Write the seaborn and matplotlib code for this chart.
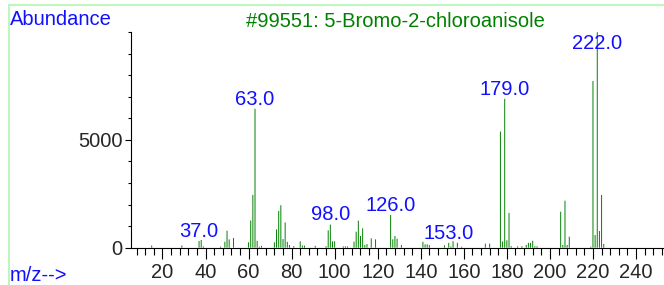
import matplotlib
matplotlib.use("Agg")
import matplotlib.pyplot as plt
from matplotlib.patches import Rectangle
from matplotlib.ticker import MultipleLocator, FixedLocator
import pandas as pd
import seaborn as sns

# --- data ---
mz = [15, 29, 37, 38, 39, 47, 49, 50, 51, 53,
      60, 61, 62, 63, 64, 65, 66, 72, 73, 74,
      75, 76, 77, 78, 79, 81, 84, 85, 86, 91,
      96, 97, 98, 99, 100, 104, 105, 106, 109, 110,
      111, 112, 113, 114, 115, 117, 119, 126, 127, 128,
      129, 131, 141, 142, 143, 144, 151, 153, 154, 155,
      157, 159, 170, 172, 177, 178, 179, 180, 181, 182,
      185, 187, 189, 190, 191, 192, 193, 194, 205, 206,
      207, 208, 209, 219, 220, 221, 222, 223, 224, 225]
abundance = [100, 100, 310, 357, 60, 50, 278, 790, 386, 450,
             250, 1260, 2450, 6450, 320, 50, 80, 250, 850, 1700,
             1970, 400, 1170, 270, 125, 70, 295, 95, 95, 85,
             70, 805, 1070, 290, 295, 60, 60, 60, 278, 742,
             1253, 541, 897, 124, 170, 433, 387, 1516, 387, 541,
             418, 124, 270, 155, 155, 120, 110, 225, 55, 300,
             225, 45, 186, 186, 5390, 285, 6905, 340, 1615, 70,
             65, 70, 130, 225, 225, 318, 65, 65, 1670, 124,
             2181, 124, 510, 50, 7734, 588, 9999, 773, 2444, 170]
label_mz = [37, 63, 98, 126, 153, 179, 222]
compound = "#99551: 5-Bromo-2-chloroanisole"

sns.set_theme(style="ticks")
plt.rcParams['font.family'] = ['Liberation Sans', 'DejaVu Sans']
fs = 14.5

fig = plt.figure(figsize=(6.64, 2.85), dpi=100)
ax = fig.add_axes([0.197, 0.131, 0.803, 0.756])

df = pd.DataFrame({'mz': mz, 'abundance': abundance})
# thin bars, no pixel snapping so every stick shows
sns.histplot(data=df, x='mz', weights='abundance', discrete=True, shrink=0.45,
             color='#008000', alpha=1, linewidth=0, snap=False, ax=ax)

ax.set_xlim(5.3, 253)
ax.set_ylim(0, 10000)
ax.set_xlabel('')
ax.set_ylabel('')

ax.xaxis.set_major_locator(MultipleLocator(20))
ax.xaxis.set_minor_locator(MultipleLocator(4))
ax.yaxis.set_major_locator(FixedLocator([0, 5000]))
ax.yaxis.set_minor_locator(MultipleLocator(1000))
ax.tick_params(axis='x', which='major', length=7.7, width=0.8, pad=3, labelsize=fs, color='black')
ax.tick_params(axis='x', which='minor', length=5, width=0.8, color='black')
ax.tick_params(axis='y', which='major', length=4, width=0.8, pad=2, labelsize=fs, color='black')
ax.tick_params(axis='y', which='minor', length=2, width=0.8, color='black')
sns.despine(ax=ax)
for side in ['left', 'bottom']:
    ax.spines[side].set_color('black')
    ax.spines[side].set_linewidth(0.8)

# peak labels
ab = dict(zip(mz, abundance))
for m in label_mz:
    ax.annotate(f"{m:.1f}", (m, min(ab[m], 9050)), xytext=(0, 3), textcoords='offset points',
                ha='center', va='baseline', color='#1010ff', fontsize=fs)

fig.text(10 / 664, 1 - 25 / 285, 'Abundance', color='#1010ff', fontsize=fs, va='baseline')
fig.text(395 / 664, 1 - 27 / 285, compound, color='#008000', fontsize=fs, ha='center', va='baseline')
fig.text(10 / 664, 1 - 281 / 285, 'm/z-->', color='#1010ff', fontsize=fs, va='baseline')

fig.add_artist(Rectangle((9.3 / 664, -0.1), 1.1, 1.1 + (280 / 285) - 1, transform=fig.transFigure,
                         fill=False, edgecolor='#bff5bf', linewidth=1.5))

fig.savefig('out.png', dpi=100)
